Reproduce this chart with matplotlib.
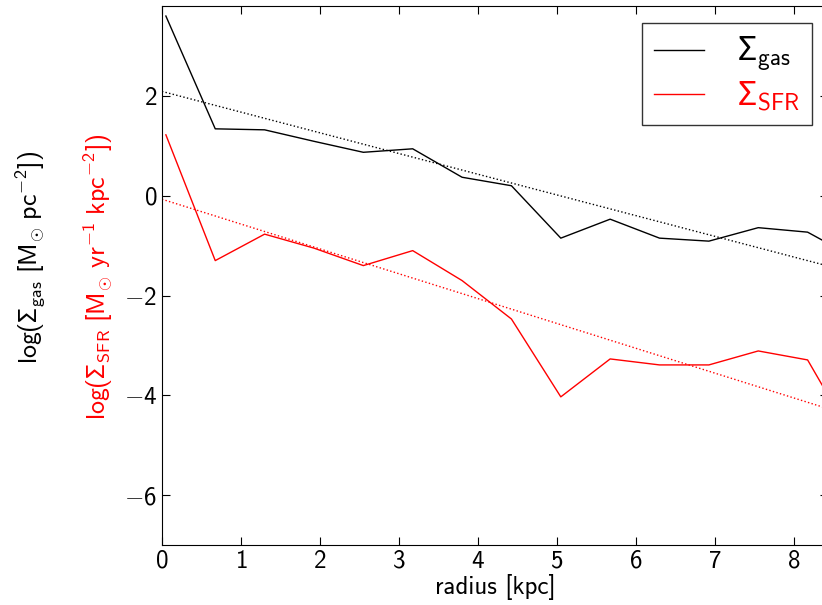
import numpy as np
import matplotlib
matplotlib.use("Agg")
import matplotlib.pyplot as plt
from matplotlib.ticker import FuncFormatter

plt.rcParams['font.family'] = ['cmss10', 'DejaVu Sans']
plt.rcParams['mathtext.fontset'] = 'custom'
plt.rcParams['mathtext.rm'] = 'cmss10'
plt.rcParams['mathtext.sf'] = 'cmss10'
plt.rcParams['mathtext.it'] = 'cmss10'
plt.rcParams['mathtext.bf'] = 'Noto Sans'
plt.rcParams['mathtext.fallback'] = 'cm'

# radial bins (kpc)
radius = [0.05, 0.675, 1.3, 1.925, 2.55, 3.175, 3.8, 4.425, 5.05,
          5.675, 6.3, 6.925, 7.55, 8.175, 8.8]

# log surface densities
log_gas = [3.60, 1.34, 1.32, 1.09, 0.87, 0.94, 0.37, 0.20, -0.85,
           -0.47, -0.85, -0.91, -0.64, -0.73, -1.27]
log_sfr = [1.22, -1.30, -0.77, -1.05, -1.40, -1.10, -1.70, -2.47, -4.03,
           -3.27, -3.39, -3.39, -3.11, -3.29, -5.00]

# linear fits (end points)
fit_x = [0.0, 8.8]
fit_gas = [2.09, -1.56]
fit_sfr = [-0.07, -4.45]

fig = plt.figure(figsize=(8.22, 6.05), dpi=100)
ax = fig.add_axes([0.197, 0.099, 0.81, 0.891])

ax.plot(radius, log_gas, color='black', lw=1.0, label=r'$\mathbf{\Sigma}_{\rm gas}$')
ax.plot(radius, log_sfr, color='red', lw=1.0, label=r'$\mathbf{\Sigma}_{\rm SFR}$')
ax.plot(fit_x, fit_gas, color='black', lw=1.0, ls=':')
ax.plot(fit_x, fit_sfr, color='red', lw=1.0, ls=':')

ax.set_xlim(0, 8.43)
ax.set_ylim(-7, 3.8)
ax.set_xticks(range(0, 9))
ax.set_yticks([-6, -4, -2, 0, 2])
fmt = FuncFormatter(lambda v, p: r'$%d$' % int(round(v)))
ax.xaxis.set_major_formatter(fmt)
ax.yaxis.set_major_formatter(fmt)
ax.tick_params(direction='in', top=True, right=True, length=6, labelsize=18)
ax.set_xlabel('radius [kpc]', fontsize=18, labelpad=1)

fig.text(0.037, 0.574,
         r'$\mathrm{log}(\mathbf{\Sigma}_{\rm gas}\ [\mathrm{M}_{\odot}\ \mathrm{pc}^{-2}])$',
         rotation=90, ha='center', va='center', fontsize=18.6, color='black')
fig.text(0.119, 0.542,
         r'$\mathrm{log}(\mathbf{\Sigma}_{\rm SFR}\ [\mathrm{M}_{\odot}\ \mathrm{yr}^{-1}\ \mathrm{kpc}^{-2}])$',
         rotation=90, ha='center', va='center', fontsize=18.6, color='red')

leg = ax.legend(loc='upper right', fontsize=24, frameon=True, fancybox=False,
                handlelength=1.5, handletextpad=1.0, borderpad=0.35,
                labelspacing=0.15, borderaxespad=0,
                bbox_to_anchor=(0.976, 0.9685))
leg.get_frame().set_edgecolor('black')
for txt, c in zip(leg.get_texts(), ['black', 'red']):
    txt.set_color(c)

fig.savefig('out.png', dpi=100)
